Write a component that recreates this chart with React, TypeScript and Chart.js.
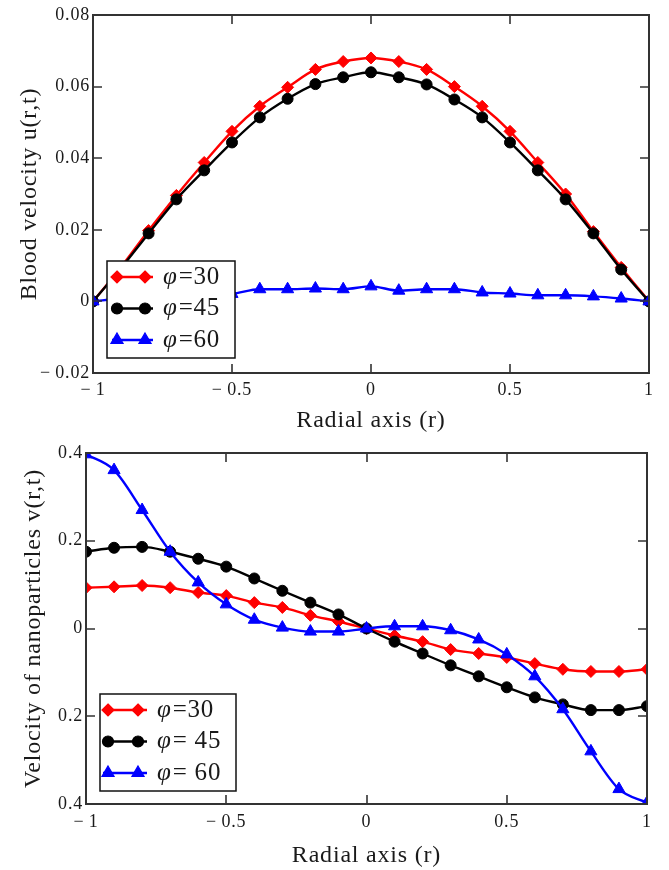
import React, { useEffect, useRef } from 'react';
import { Chart, registerables } from 'chart.js';

Chart.register(...registerables);

// ---------- data ----------
const radialAxis = [-1, -0.9, -0.8, -0.7, -0.6, -0.5, -0.4, -0.3, -0.2, -0.1, 0, 0.1, 0.2, 0.3, 0.4, 0.5, 0.6, 0.7, 0.8, 0.9, 1];

const bloodPhi30 = [0, 0.0095, 0.0198, 0.0296, 0.0388, 0.0475, 0.0545, 0.0598, 0.0648, 0.067, 0.068, 0.067, 0.0648, 0.06, 0.0545, 0.0475, 0.0388, 0.03, 0.0195, 0.0095, 0];
const bloodPhi45 = [0, 0.0092, 0.019, 0.0285, 0.0366, 0.0444, 0.0514, 0.0566, 0.0607, 0.0626, 0.064, 0.0626, 0.0606, 0.0564, 0.0514, 0.0444, 0.0366, 0.0285, 0.019, 0.0089, 0];
const bloodPhi60 = [0, 0.0008, 0.0014, 0.0017, 0.0018, 0.0021, 0.0034, 0.0034, 0.0036, 0.0034, 0.0042, 0.003, 0.0034, 0.0034, 0.0025, 0.0022, 0.0017, 0.0017, 0.0014, 0.0008, 0];

const nanoPhi30 = [0.093, 0.095, 0.098, 0.093, 0.082, 0.075, 0.059, 0.048, 0.03, 0.016, 0, -0.016, -0.03, -0.048, -0.057, -0.066, -0.08, -0.093, -0.098, -0.098, -0.093];
const nanoPhi45 = [0.175, 0.184, 0.186, 0.175, 0.159, 0.141, 0.114, 0.086, 0.059, 0.032, 0, -0.03, -0.057, -0.084, -0.109, -0.134, -0.157, -0.173, -0.186, -0.186, -0.177];
const nanoPhi60 = [0.397, 0.361, 0.27, 0.175, 0.105, 0.055, 0.02, 0.002, -0.007, -0.007, 0, 0.005, 0.005, -0.004, -0.025, -0.059, -0.109, -0.184, -0.28, -0.366, -0.397];

const topLegendValues = ['=30', '=45', '=60'];
const bottomLegendValues = ['=30', '= 45', '= 60'];
const phiSymbol = 'φ';

const xTitle = 'Radial axis (r)';
const topYTitle = 'Blood velocity u(r,t)';
const bottomYTitle = 'Velocity of nanoparticles v(r,t)';

// ---------- styling ----------
const FAMILY = '"Liberation Serif", "Times New Roman", serif';
const TEXT = '#1a1a1a';
const FRAME = '#333';
const seriesStyles = [
  { color: '#ff0000', pointStyle: 'rectRot', radius: 6, order: 2 },
  { color: '#000000', pointStyle: 'circle', radius: 5.5, order: 1 },
  { color: '#0000ff', pointStyle: 'triangle', radius: 7, order: 0 },
];

const fmtSigned = (v: number, digits: number) => {
  const n = Number(v.toFixed(digits));
  if (n === 0) return '0';
  if (n < 0) return '\u2212\u2009' + String(Math.abs(n));
  return String(n);
};
const fmtAbs = (v: number, digits: number) => {
  const n = Math.abs(Number(v.toFixed(digits)));
  return n === 0 ? '0' : String(n);
};

function drawMarker(ctx: CanvasRenderingContext2D, style: string, x: number, y: number, r: number) {
  ctx.beginPath();
  if (style === 'circle') {
    ctx.arc(x, y, r, 0, Math.PI * 2);
  } else if (style === 'rectRot') {
    ctx.moveTo(x, y - r);
    ctx.lineTo(x + r, y);
    ctx.lineTo(x, y + r);
    ctx.lineTo(x - r, y);
  } else {
    const h = r * 1.5;
    const w = r * Math.sin(Math.PI / 3);
    ctx.moveTo(x, y - r);
    ctx.lineTo(x + w, y - r + h);
    ctx.lineTo(x - w, y - r + h);
  }
  ctx.closePath();
  ctx.fill();
  ctx.stroke();
}

const framePlugin = {
  id: 'frameAndLegend',
  beforeDraw(chart: any) {
    chart.ctx.letterSpacing = '0.8px';
  },
  afterDatasetsDraw(chart: any) {
    const opts = chart.options.plugins.customLegend;
    if (!opts) return;
    const { ctx, chartArea: ca } = chart;
    const left = ca.left + opts.offsetLeft;
    const bottom = ca.bottom - opts.offsetBottom;
    const top = bottom - opts.height;
    ctx.save();
    ctx.fillStyle = '#fff';
    ctx.fillRect(left, top, opts.width, opts.height);
    ctx.strokeStyle = '#111';
    ctx.lineWidth = 1.5;
    ctx.strokeRect(left, top, opts.width, opts.height);
    opts.values.forEach((val: string, i: number) => {
      const st = seriesStyles[i];
      const y = top + opts.rowStart + i * opts.rowGap;
      ctx.strokeStyle = st.color;
      ctx.fillStyle = st.color;
      ctx.lineWidth = 2.4;
      ctx.beginPath();
      ctx.moveTo(left + opts.lineStart, y);
      ctx.lineTo(left + opts.lineEnd, y);
      ctx.stroke();
      ctx.lineWidth = 1.2;
      opts.markers.forEach((mx: number) => drawMarker(ctx, st.pointStyle, left + mx, y, st.radius));
      ctx.fillStyle = TEXT;
      ctx.textBaseline = 'middle';
      ctx.textAlign = 'left';
      ctx.font = `italic 25px ${FAMILY}`;
      const tx = left + opts.textStart;
      ctx.fillText(phiSymbol, tx, y);
      const w = ctx.measureText(phiSymbol).width;
      ctx.font = `25px ${FAMILY}`;
      ctx.fillText(val, tx + w + 1, y);
    });
    ctx.restore();
  },
  afterDraw(chart: any) {
    const { ctx, chartArea: ca, scales } = chart;
    ctx.save();
    ctx.strokeStyle = FRAME;
    ctx.lineWidth = 2;
    ctx.strokeRect(ca.left, ca.top, ca.right - ca.left, ca.bottom - ca.top);
    ctx.lineWidth = 1.6;
    const L = 9;
    ctx.beginPath();
    const xs = scales.x.ticks;
    xs.forEach((t: any, i: number) => {
      if (i === 0 || i === xs.length - 1) return;
      const px = Math.round(scales.x.getPixelForValue(t.value));
      ctx.moveTo(px, ca.bottom);
      ctx.lineTo(px, ca.bottom - L);
      ctx.moveTo(px, ca.top);
      ctx.lineTo(px, ca.top + L);
    });
    const ys = scales.y.ticks;
    ys.forEach((t: any, i: number) => {
      if (i === 0 || i === ys.length - 1) return;
      const py = Math.round(scales.y.getPixelForValue(t.value));
      ctx.moveTo(ca.left, py);
      ctx.lineTo(ca.left + L, py);
      ctx.moveTo(ca.right, py);
      ctx.lineTo(ca.right - L, py);
    });
    ctx.stroke();
    ctx.restore();
  },
};

function makeConfig(p: any): any {
  const seriesList = p.series as number[][];
  return {
    type: 'line',
    data: {
      datasets: seriesList.map((vals, i) => {
        const st = seriesStyles[i];
        return {
          data: radialAxis.map((r, k) => ({ x: r, y: vals[k] })),
          borderColor: st.color,
          backgroundColor: st.color,
          pointBackgroundColor: st.color,
          pointBorderColor: st.color,
          pointStyle: st.pointStyle,
          pointRadius: st.radius,
          pointBorderWidth: 1,
          borderWidth: 2.4,
          cubicInterpolationMode: 'monotone',
          order: st.order,
          clip: 0,
        };
      }),
    },
    options: {
      responsive: false,
      animation: false,
      events: [],
      layout: { padding: { left: 0, right: p.padRight, top: p.padTop, bottom: 0 } },
      plugins: {
        legend: { display: false },
        tooltip: { enabled: false },
        customLegend: p.legend,
      },
      scales: {
        x: {
          type: 'linear',
          min: -1,
          max: 1,
          grid: { display: false, drawTicks: false },
          border: { display: false },
          ticks: {
            stepSize: 0.5,
            autoSkip: false,
            maxRotation: 0,
            padding: p.xTickPad,
            color: TEXT,
            font: { family: FAMILY, size: 18 },
            callback: (v: number) => fmtSigned(v, 1),
          },
          title: {
            display: true,
            text: xTitle,
            color: TEXT,
            font: { family: FAMILY, size: 24, lineHeight: 1 },
            padding: { top: 0, bottom: 2 },
          },
          afterFit: (s: any) => {
            s.height = p.xHeight;
            s.paddingLeft = 0;
            s.paddingRight = 0;
          },
        },
        y: {
          min: p.yMin,
          max: p.yMax,
          grid: { display: false, drawTicks: false },
          border: { display: false },
          ticks: {
            stepSize: p.yStep,
            autoSkip: false,
            padding: 3,
            color: TEXT,
            font: { family: FAMILY, size: 18 },
            callback: p.yFormat,
          },
          title: {
            display: true,
            text: p.yTitle,
            color: TEXT,
            font: { family: FAMILY, size: 24, lineHeight: 1 },
            padding: { top: p.yTitlePad, bottom: 0 },
          },
          afterFit: (s: any) => {
            s.width = p.yWidth;
            s.paddingTop = 0;
            s.paddingBottom = 0;
          },
        },
      },
    },
    plugins: [framePlugin],
  };
}

const topConfig = () =>
  makeConfig({
    series: [bloodPhi30, bloodPhi45, bloodPhi60],
    yMin: -0.02,
    yMax: 0.08,
    yStep: 0.02,
    yFormat: (v: number) => fmtSigned(v, 2),
    yTitle: topYTitle,
    yTitlePad: 18,
    yWidth: 93,
    xHeight: 62,
    xTickPad: 6,
    padRight: 20,
    padTop: 15,
    legend: {
      values: topLegendValues,
      offsetLeft: 14,
      offsetBottom: 15,
      width: 128,
      height: 97,
      rowStart: 16,
      rowGap: 31.5,
      lineStart: 5,
      lineEnd: 46,
      markers: [10, 38],
      textStart: 56,
    },
  });

const bottomConfig = () =>
  makeConfig({
    series: [nanoPhi30, nanoPhi45, nanoPhi60],
    yMin: -0.4,
    yMax: 0.4,
    yStep: 0.2,
    yFormat: (v: number) => fmtAbs(v, 1),
    yTitle: bottomYTitle,
    yTitlePad: 21.5,
    yWidth: 86,
    xHeight: 66,
    xTickPad: 7,
    padRight: 22,
    padTop: 18,
    legend: {
      values: bottomLegendValues,
      offsetLeft: 14,
      offsetBottom: 13,
      width: 136,
      height: 97,
      rowStart: 16,
      rowGap: 31.5,
      lineStart: 3,
      lineEnd: 47,
      markers: [8, 38],
      textStart: 57,
    },
  });

function ChartCanvas({ makeCfg, top }: { makeCfg: () => any; top: number }) {
  const ref = useRef<HTMLCanvasElement>(null);
  useEffect(() => {
    const chart = new Chart(ref.current as HTMLCanvasElement, makeCfg());
    return () => chart.destroy();
  }, []);
  return (
    <canvas
      ref={ref}
      width={669}
      height={435}
      style={{ position: 'absolute', left: 0, top, width: 669, height: 435 }}
    />
  );
}

export default function App() {
  return (
    <div style={{ position: 'absolute', left: 0, top: 0, width: 669, height: 870, background: '#fff' }}>
      <ChartCanvas makeCfg={topConfig} top={0} />
      <ChartCanvas makeCfg={bottomConfig} top={435} />
    </div>
  );
}
